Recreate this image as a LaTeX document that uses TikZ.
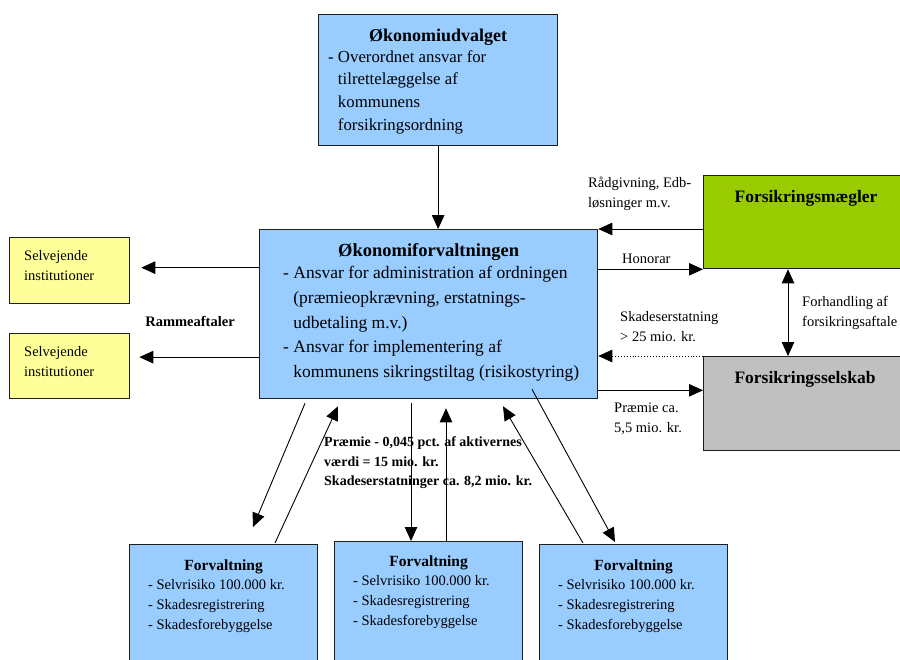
\documentclass[tikz,border=0pt]{standalone}
\usepackage{fontspec}
\setmainfont{Liberation Serif}
\usetikzlibrary{arrows.meta, positioning, calc}
\definecolor{BoxBlue}{RGB}{153,204,255}
\definecolor{BoxYellow}{RGB}{255,255,153}
\definecolor{BoxGreen}{RGB}{153,204,0}
\definecolor{BoxGrey}{RGB}{192,192,192}
\definecolor{EdgeGrey}{RGB}{30,30,30}

\begin{document}
\begin{tikzpicture}[
    x=1pt, y=-1pt,
    box/.style = {rectangle, draw=EdgeGrey, line width=1.3pt, anchor=north west, inner sep=0pt},
    bluebox/.style = {box, fill=BoxBlue},
    unitbox/.style = {bluebox, minimum width=188pt, minimum height=140pt},
    instbox/.style = {box, fill=BoxYellow, minimum width=120pt, minimum height=66pt},
    partnerbox/.style = {box, minimum width=206pt, minimum height=94pt},
    head/.style = {inner sep=0pt, font=\bfseries\fontsize{18}{22}\selectfont},
    subhead/.style = {inner sep=0pt, font=\bfseries\fontsize{15.5}{19}\selectfont},
    txt/.style = {inner sep=0pt, align=left, anchor=west, font=\fontsize{14.5}{20}\selectfont},
    boldtxt/.style = {txt, font=\bfseries\fontsize{14}{19.5}\selectfont},
    arr/.style = {-{Triangle[length=14pt,width=12.5pt]}, line width=0.9pt},
    dbl/.style = {{Triangle[length=14pt,width=12.5pt]}-{Triangle[length=14pt,width=12.5pt]}, line width=0.9pt}
]
\useasboundingbox (0,0) rectangle (900,659);
% Committee and administration
\node[bluebox, minimum width=239pt, minimum height=131pt] (oeku) at (318,14) {};
\node[head] (oeku-h) at ($(oeku.north)+(0,23)$) {Økonomiudvalget};
\node[txt, font=\fontsize{16.8}{22.7}\selectfont] (oeku-t) at (328,92)
    {- Overordnet ansvar for\\\hphantom{- }tilrettelæggelse af\\\hphantom{- }kommunens\\\hphantom{- }forsikringsordning};
\node[bluebox, minimum width=338pt, minimum height=169pt] (oekf) at (259,229) {};
\node[head, font=\bfseries\fontsize{18.5}{22}\selectfont] (oekf-h) at ($(oekf.north)+(0,23)$) {Økonomiforvaltningen};
\node[txt, font=\fontsize{17.5}{24.7}\selectfont] (oekf-t) at (283,324)
    {- Ansvar for administration af ordningen\\\hphantom{- }(præmieopkrævning, erstatnings-\\\hphantom{- }udbetaling m.v.)\\- Ansvar for implementering af\\\hphantom{- }kommunens sikringstiltag (risikostyring)};
% Broker and insurer
\node[partnerbox, fill=BoxGreen, minimum height=93pt] (maegler) at (703,175) {};
\node[head, font=\bfseries\fontsize{17.5}{22}\selectfont] (maegler-h) at ($(maegler.north west)+(103,23)$) {Forsikringsmægler};
\node[partnerbox, fill=BoxGrey] (selskab) at (703,356) {};
\node[head, font=\bfseries\fontsize{17.5}{22}\selectfont] (selskab-h) at ($(selskab.north west)+(102,23)$) {Forsikringsselskab};
% Self-governing institutions
\node[instbox] (sel1) at (9,237) {};
\node[txt] (sel1-t) at ($(sel1.north west)+(15,29)$) {Selvejende\\institutioner};
\node[instbox, minimum height=65pt] (sel2) at (9,333) {};
\node[txt] (sel2-t) at ($(sel2.north west)+(15,29)$) {Selvejende\\institutioner};
% Departments
\node[unitbox] (fv1) at (129,544) {};
\node[subhead] (fv1-h) at ($(fv1.north)+(0,23)$) {Forvaltning};
\node[txt] (fv1-t) at ($(fv1.north west)+(19,62)$) {- Selvrisiko 100.000 kr.\\- Skadesregistrering\\- Skadesforebyggelse};
\node[unitbox] (fv2) at (334,541) {};
\node[subhead] (fv2-h) at ($(fv2.north)+(0,22)$) {Forvaltning};
\node[txt] (fv2-t) at ($(fv2.north west)+(19,61)$) {- Selvrisiko 100.000 kr.\\- Skadesregistrering\\- Skadesforebyggelse};
\node[unitbox] (fv3) at (539,544) {};
\node[subhead] (fv3-h) at ($(fv3.north)+(0,23)$) {Forvaltning};
\node[txt] (fv3-t) at ($(fv3.north west)+(19,62)$) {- Selvrisiko 100.000 kr.\\- Skadesregistrering\\- Skadesforebyggelse};

% Connector labels
\node[txt] (lbl-radg) at (588,194) {Rådgivning, Edb-\\løsninger m.v.};
\node[txt] (lbl-hon) at (622,259) {Honorar};
\node[txt] (lbl-skad) at (620,327) {Skadeserstatning\\> 25 mio. kr.};
\node[txt] (lbl-forh) at (802,313) {Forhandling af\\forsikringsaftale};
\node[txt] (lbl-praem) at (614,419) {Præmie ca.\\5,5 mio. kr.};
\node[boldtxt] (lbl-mid) at (324,463) {Præmie - 0,045 pct. af aktivernes\\værdi = 15 mio. kr.\\Skadeserstatninger ca. 8,2 mio. kr.};
\node[boldtxt, anchor=center, font=\bfseries\fontsize{14.5}{19.5}\selectfont] (lbl-ramme) at (190,321) {Rammeaftaler};

% Helper points
\coordinate (s1) at ($(sel1.east)+(11,-3)$);
\coordinate (s2) at ($(sel2.east)+(9,-9)$);
\coordinate (p1) at ($(oekf.south east)+(0,-9)$);
\coordinate (vx) at (788,0);

% Connectors
\draw[arr] (oeku.south) -- (oeku.south |- oekf.north);
\draw[arr] (oekf.west |- s1) -- (s1);
\draw[arr] (oekf.west |- s2) -- (s2);
\draw[arr] (maegler.west |- oekf.north east) -- (oekf.north east);
\draw[arr] (oekf.east |- maegler.south west) -- (maegler.south west);
\draw[arr, dotted] (selskab.north west) -- (oekf.east |- selskab.north west);
\draw[arr] (p1) -- (p1 -| selskab.west);
\draw[dbl] (vx |- maegler.south) -- (vx |- selskab.north);
\draw[arr] ($(oekf.south west)+(46,4)$) -- ($(fv1.north west)+(124,-17)$);
\draw[arr] ($(fv1.north west)+(146,-1)$) -- ($(oekf.south west)+(79,7)$);
\draw[arr] ($(oekf.south west)+(152,4)$) -- ($(fv2.north west)+(77,0)$);
\draw[arr] ($(fv2.north west)+(112,0)$) -- ($(oekf.south west)+(187,9)$);
\draw[arr] ($(fv3.north west)+(44,-1)$) -- ($(oekf.south west)+(244,7)$);
\draw[arr] ($(oekf.south west)+(273,-10)$) -- ($(fv3.north west)+(76,-2)$);
\end{tikzpicture}
\end{document}
